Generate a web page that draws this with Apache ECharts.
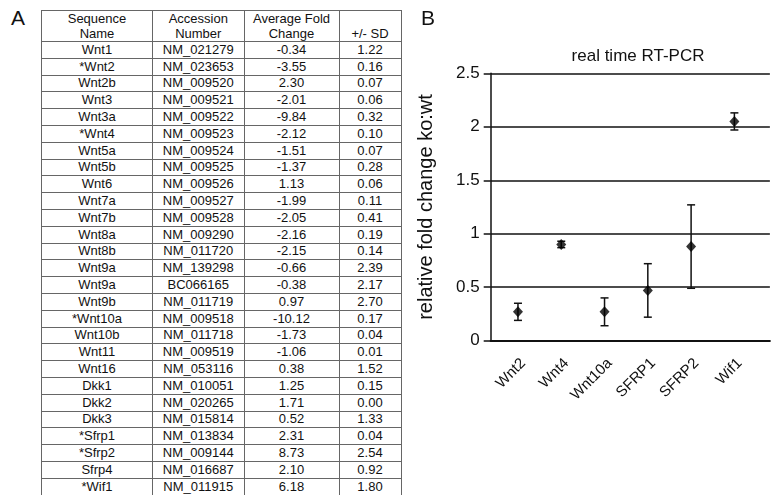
<!DOCTYPE html>
<html>
<head>
<meta charset="UTF-8">
<title>real time RT-PCR</title>
<script src="https://cdn.jsdelivr.net/npm/echarts@6/dist/echarts.min.js"></script>
<style>
  html, body { margin:0; padding:0; background:#fff; }
  body { width:772px; height:495px; position:relative; overflow:hidden; font-family:'Liberation Sans', Arial, sans-serif; color:#111; }
  #panelA { position:absolute; left:11px; top:6px; font-size:21px; }
  #tbl { position:absolute; left:41px; top:10px; border-collapse:collapse; font-size:13px; table-layout:fixed; }
  #tbl td { border:1px solid #666; text-align:center; padding:0; height:15.8px; line-height:14px; white-space:nowrap; }
  #tbl tr.head td { height:29px; vertical-align:middle; line-height:15px; }
  #tbl tr.head td.sd { vertical-align:bottom; }
  #chart { position:absolute; left:400px; top:0; width:372px; height:495px; }
</style>
</head>
<body>
<div id="panelA">A</div>
<table id="tbl"></table>
<div id="chart"></div>
<script>
// panel A table
var headers = ['Sequence<br>Name', 'Accession<br>Number', 'Average Fold<br>Change', '+/- SD'];
var seqNames = ['Wnt1', '*Wnt2', 'Wnt2b', 'Wnt3', 'Wnt3a', '*Wnt4', 'Wnt5a', 'Wnt5b', 'Wnt6', 'Wnt7a',
  'Wnt7b', 'Wnt8a', 'Wnt8b', 'Wnt9a', 'Wnt9a', 'Wnt9b', '*Wnt10a', 'Wnt10b', 'Wnt11', 'Wnt16',
  'Dkk1', 'Dkk2', 'Dkk3', '*Sfrp1', '*Sfrp2', 'Sfrp4', '*Wif1'];
var accessions = ['NM_021279', 'NM_023653', 'NM_009520', 'NM_009521', 'NM_009522', 'NM_009523', 'NM_009524',
  'NM_009525', 'NM_009526', 'NM_009527', 'NM_009528', 'NM_009290', 'NM_011720', 'NM_139298', 'BC066165',
  'NM_011719', 'NM_009518', 'NM_011718', 'NM_009519', 'NM_053116', 'NM_010051', 'NM_020265', 'NM_015814',
  'NM_013834', 'NM_009144', 'NM_016687', 'NM_011915'];
var avgFold = ['-0.34', '-3.55', '2.30', '-2.01', '-9.84', '-2.12', '-1.51', '-1.37', '1.13', '-1.99',
  '-2.05', '-2.16', '-2.15', '-0.66', '-0.38', '0.97', '-10.12', '-1.73', '-1.06', '0.38',
  '1.25', '1.71', '0.52', '2.31', '8.73', '2.10', '6.18'];
var sdValues = ['1.22', '0.16', '0.07', '0.06', '0.32', '0.10', '0.07', '0.28', '0.06', '0.11',
  '0.41', '0.19', '0.14', '2.39', '2.17', '2.70', '0.17', '0.04', '0.01', '1.52',
  '0.15', '0.00', '1.33', '0.04', '2.54', '0.92', '1.80'];
var colWidths = [111, 91.5, 95, 62];

var html = '<colgroup>';
colWidths.forEach(function(w){ html += '<col style="width:' + w + 'px">'; });
html += '</colgroup><tr class="head">';
headers.forEach(function(h, i){ html += '<td' + (i == 3 ? ' class="sd"' : '') + '>' + h + '</td>'; });
html += '</tr>';
for (var r = 0; r < seqNames.length; r++) {
  html += '<tr><td>' + seqNames[r] + '</td><td>' + accessions[r] + '</td><td>' + avgFold[r] + '</td><td>' + sdValues[r] + '</td></tr>';
}
document.getElementById('tbl').innerHTML = html;

// panel B chart
var categories = ['Wnt2', 'Wnt4', 'Wnt10a', 'SFRP1', 'SFRP2', 'Wif1'];
var foldMean = [0.27, 0.90, 0.27, 0.47, 0.88, 2.05];
var foldErr = [0.08, 0.03, 0.13, 0.25, 0.39, 0.08];
var yTicks = [0, 0.5, 1, 1.5, 2, 2.5];

var font = 'Liberation Sans';
var pointData = categories.map(function(c, i){ return [i, foldMean[i]]; });
var errData = categories.map(function(c, i){ return [i, foldMean[i] - foldErr[i], foldMean[i] + foldErr[i]]; });

var chart = echarts.init(document.getElementById('chart'));
var option = {
  animation: false,
  title: [
    { text: 'B', left: 16, top: 4, textStyle: { fontFamily: font, fontSize: 21, fontWeight: 'normal', color: '#111' } },
    { text: 'real time RT-PCR', left: 233, top: 43, textAlign: 'center',
      textStyle: { fontFamily: font, fontSize: 17, fontWeight: 'normal', color: '#111' } }
  ],
  grid: { left: 90.7, top: 73.3, right: 0, bottom: 154.3 },
  xAxis: {
    type: 'value', min: -0.63, max: 5.82,
    axisLine: { show: true, onZero: false, lineStyle: { color: '#111', width: 2 } },
    axisTick: { show: false },
    splitLine: { show: false },
    axisLabel: {
      rotate: 45, margin: 15, verticalAlign: 'top', fontFamily: font, fontSize: 15, color: '#111',
      formatter: function(v){
        var i = Math.round(v);
        return (Math.abs(v - i) < 1e-6 && categories[i]) ? categories[i] : '';
      }
    }
  },
  yAxis: {
    type: 'value', min: yTicks[0], max: yTicks[yTicks.length - 1], interval: 0.5,
    name: 'relative fold change ko:wt', nameLocation: 'middle', nameGap: 54,
    nameTextStyle: { fontFamily: font, fontSize: 20, color: '#111' },
    axisLine: { show: true, onZero: false, lineStyle: { color: '#111', width: 1.5 } },
    axisTick: { show: true, length: 7, lineStyle: { color: '#111', width: 1.5 } },
    splitLine: { show: true, lineStyle: { color: '#111', width: 1.5 } },
    axisLabel: { fontFamily: font, fontSize: 17, color: '#111', margin: 11 }
  },
  series: [
    {
      type: 'custom',
      z: 1,
      data: errData,
      renderItem: function(params, api){
        var x = api.value(0);
        var lo = api.coord([x, api.value(1)]);
        var hi = api.coord([x, api.value(2)]);
        var cap = 4;
        var st = { stroke: '#111', lineWidth: 1.5 };
        return {
          type: 'group',
          children: [
            { type: 'line', shape: { x1: lo[0], y1: lo[1], x2: hi[0], y2: hi[1] }, style: st },
            { type: 'line', shape: { x1: lo[0] - cap, y1: lo[1], x2: lo[0] + cap, y2: lo[1] }, style: st },
            { type: 'line', shape: { x1: hi[0] - cap, y1: hi[1], x2: hi[0] + cap, y2: hi[1] }, style: st }
          ]
        };
      }
    },
    {
      type: 'scatter',
      z: 2,
      symbol: 'diamond',
      symbolSize: [10, 11],
      itemStyle: { color: '#000' },
      data: pointData
    }
  ]
};
chart.setOption(option);
</script>
</body>
</html>
